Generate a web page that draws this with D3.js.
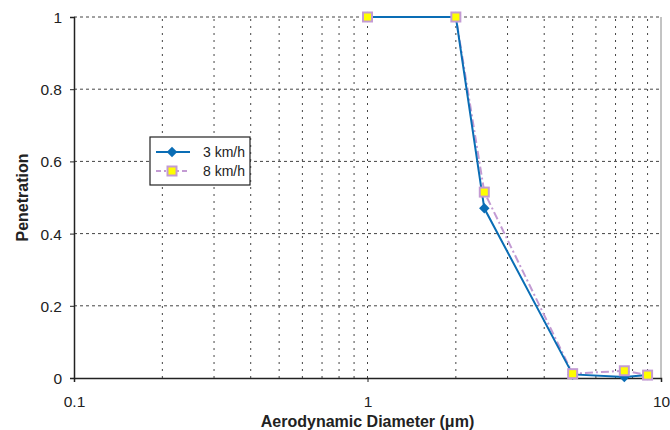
<!DOCTYPE html>
<html>
<head>
<meta charset="utf-8">
<script src="https://cdn.jsdelivr.net/npm/d3@7"></script>
<style>
  html, body { margin: 0; padding: 0; background: #fff; }
  svg { display: block; font-family: Arial, "Liberation Sans", sans-serif; }
</style>
</head>
<body>
<svg id="chart" width="670" height="430"></svg>
<script>
// Particle sizes (µm) and penetration at two face velocities
const diameters = [1, 2, 2.5, 5, 7.5, 9];
const pen3kmh = [1, 1, 0.47, 0.01, 0.003, 0.008];
const pen8kmh = [1, 1, 0.515, 0.012, 0.02, 0.008];
const seriesNames = ["3 km/h", "8 km/h"];
const xTickValues = [0.1, 1, 10];
const yTickValues = [0, 0.2, 0.4, 0.6, 0.8, 1];

const svg = d3.select("#chart");
const margin = { left: 74, right: 9, top: 17, bottom: 52 };
const W = 670, H = 430;
const FONT = "Arial, 'Liberation Sans', sans-serif";

const x = d3.scaleLog().domain([0.1, 10]).range([margin.left, W - margin.right]);
const y = d3.scaleLinear().domain([0, 1]).range([H - margin.bottom, margin.top]);

const fmt = d => (d === 0 ? "0" : d3.format("~g")(d));

// Vertical gridlines at each log step
const minor = [];
[0.1, 1].forEach(dec => { for (let k = 2; k <= 9; k++) minor.push(dec * k); });
minor.push(1);
svg.append("g").selectAll("line").data(minor).join("line")
  .attr("x1", d => x(d)).attr("x2", d => x(d))
  .attr("y1", y(0)).attr("y2", y(1))
  .attr("stroke", "#444").attr("stroke-width", 1)
  .attr("stroke-dasharray", "2,5");

// Horizontal gridlines
svg.append("g").selectAll("line").data(yTickValues.filter(d => d > 0)).join("line")
  .attr("x1", x(0.1)).attr("x2", x(10))
  .attr("y1", d => y(d)).attr("y2", d => y(d))
  .attr("stroke", "#444").attr("stroke-width", 1)
  .attr("stroke-dasharray", "3,3");

// Right frame edge
svg.append("line")
  .attr("x1", x(10)).attr("x2", x(10)).attr("y1", y(0)).attr("y2", y(1))
  .attr("stroke", "#888").attr("stroke-width", 1);

// Axes
const xAxis = svg.append("g")
  .attr("transform", `translate(0,${y(0)})`)
  .call(d3.axisBottom(x).tickValues(xTickValues).tickFormat(fmt).tickSize(4).tickPadding(14));
const yAxis = svg.append("g")
  .attr("transform", `translate(${x(0.1)},0)`)
  .call(d3.axisLeft(y).tickValues(yTickValues).tickFormat(fmt).tickSize(4).tickPadding(8));
[xAxis, yAxis].forEach(a => {
  a.select(".domain").attr("stroke", "#222").attr("stroke-width", 1.5);
  a.selectAll(".tick line").attr("stroke", "#222");
  a.selectAll("text").attr("font-size", 15.5).attr("fill", "#222").attr("font-family", FONT);
});
yAxis.selectAll(".tick text").attr("dy", "0.35em");

// Axis titles
svg.append("text")
  .attr("x", x(1)).attr("y", 427)
  .attr("text-anchor", "middle").attr("font-size", 16).attr("font-weight", "bold")
  .attr("fill", "#222")
  .text("Aerodynamic Diameter (μm)");
svg.append("text")
  .attr("transform", `translate(28,${y(0.5)}) rotate(-90)`)
  .attr("text-anchor", "middle").attr("font-size", 16).attr("font-weight", "bold")
  .attr("fill", "#222")
  .text("Penetration");

const line = d3.line().x(d => x(d[0])).y(d => y(d[1]));
const data3 = diameters.map((d, i) => [d, pen3kmh[i]]);
const data8 = diameters.map((d, i) => [d, pen8kmh[i]]);

const blue = "#0a6db5";
const lilac = "#c39bd3";

// 8 km/h series (dash-dot, square markers)
svg.append("path").datum(data8)
  .attr("d", line).attr("fill", "none")
  .attr("stroke", lilac).attr("stroke-width", 2)
  .attr("stroke-dasharray", "8,3,2,3");

// 3 km/h series (solid, diamond markers)
svg.append("path").datum(data3)
  .attr("d", line).attr("fill", "none")
  .attr("stroke", blue).attr("stroke-width", 2);

const diamond = d3.symbol().type(d3.symbolDiamond2).size(70);
svg.append("g").selectAll("path").data(data3).join("path")
  .attr("transform", d => `translate(${x(d[0])},${y(d[1])})`)
  .attr("d", diamond).attr("fill", blue);

svg.append("g").selectAll("rect").data(data8).join("rect")
  .attr("x", d => x(d[0]) - 4.5).attr("y", d => y(d[1]) - 4.5)
  .attr("width", 9).attr("height", 9)
  .attr("fill", "#ffff00").attr("stroke", lilac).attr("stroke-width", 2);

// Legend
const lg = svg.append("g").attr("transform", "translate(150,137)");
lg.append("rect").attr("width", 100).attr("height", 48)
  .attr("fill", "#fff").attr("stroke", "#222").attr("stroke-width", 1.2);
const rows = [
  { name: seriesNames[0], color: blue, dash: null, marker: "diamond" },
  { name: seriesNames[1], color: lilac, dash: "5,3,2,3", marker: "square" }
];
rows.forEach((r, i) => {
  const cy = 15 + i * 19;
  lg.append("line").attr("x1", 6).attr("x2", 40).attr("y1", cy).attr("y2", cy)
    .attr("stroke", r.color).attr("stroke-width", 2)
    .attr("stroke-dasharray", r.dash);
  if (r.marker === "diamond") {
    lg.append("path").attr("transform", `translate(22,${cy})`)
      .attr("d", diamond).attr("fill", r.color);
  } else {
    lg.append("rect").attr("x", 17.5).attr("y", cy - 4.5).attr("width", 9).attr("height", 9)
      .attr("fill", "#ffff00").attr("stroke", r.color).attr("stroke-width", 2);
  }
  lg.append("text").attr("x", 53).attr("y", cy).attr("dy", "0.35em")
    .attr("font-size", 14).attr("fill", "#222").attr("font-family", FONT).text(r.name);
});
</script>
</body>
</html>
